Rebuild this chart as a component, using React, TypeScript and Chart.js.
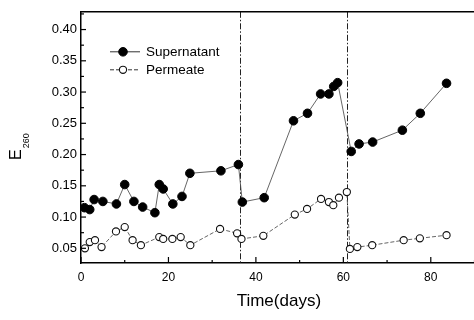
import React, { useEffect, useRef } from "react";
import { Chart, registerables } from "chart.js";

Chart.register(...registerables);

// ---- data ----
const supernatantDays = [0.8, 2.0, 3.0, 5.0, 8.1, 10.0, 12.1, 14.1, 16.9, 17.9, 18.8, 21.0, 23.1, 24.9, 32.0, 36.0, 36.9, 41.9, 48.6, 51.8, 54.8, 56.7, 57.8, 58.7, 61.8, 63.6, 66.7, 73.5, 77.6, 83.6];
const supernatantValues = [0.115, 0.112, 0.128, 0.125, 0.121, 0.152, 0.125, 0.116, 0.107, 0.152, 0.145, 0.121, 0.133, 0.170, 0.174, 0.184, 0.124, 0.131, 0.254, 0.266, 0.297, 0.297, 0.309, 0.315, 0.205, 0.217, 0.220, 0.239, 0.266, 0.314];
const permeateDays = [0.9, 2.0, 3.2, 4.7, 8.0, 10.0, 11.8, 13.7, 17.9, 18.8, 20.9, 22.8, 25.0, 31.8, 35.7, 36.7, 41.7, 48.9, 51.7, 54.9, 56.7, 57.7, 59.0, 60.8, 61.5, 63.2, 66.6, 73.8, 77.5, 83.6];
const permeateValues = [0.050, 0.060, 0.063, 0.052, 0.077, 0.084, 0.063, 0.055, 0.068, 0.065, 0.065, 0.068, 0.055, 0.081, 0.074, 0.065, 0.070, 0.104, 0.113, 0.129, 0.124, 0.119, 0.131, 0.140, 0.049, 0.052, 0.055, 0.063, 0.066, 0.071];
const seriesLabels = ["Supernatant", "Permeate"];
const xTickValues = [0, 20, 40, 60, 80];
const xMinorTickValues = [10, 30, 50, 70, 90];
const yTickValues = [0.05, 0.10, 0.15, 0.20, 0.25, 0.30, 0.35, 0.40];
const yMinorTickValues = [0.075, 0.125, 0.175, 0.225, 0.275, 0.325, 0.375, 0.425];
const markerDays = [36.4, 60.9];
const xTitle = "Time(days)";
const yTitleMain = "E";
const yTitleSub = "260";

const FONT = "'Liberation Sans', Arial, sans-serif";

const decorPlugin = {
  id: "decor",
  beforeDatasetsDraw(chart: any) {
    const { ctx, chartArea, scales } = chart;
    const x = scales.x;
    ctx.save();
    ctx.strokeStyle = "#222";
    ctx.lineWidth = 1;
    ctx.setLineDash([6, 2, 1.5, 2]);
    markerDays.forEach((d) => {
      const px = Math.round(x.getPixelForValue(d)) + 0.5;
      ctx.beginPath();
      ctx.moveTo(px, chartArea.top);
      ctx.lineTo(px, chartArea.bottom);
      ctx.stroke();
    });
    ctx.restore();
  },
  afterDraw(chart: any) {
    const { ctx, chartArea, scales } = chart;
    const x = scales.x;
    const y = scales.y;
    ctx.save();
    // top frame
    ctx.strokeStyle = "#000";
    ctx.lineWidth = 1.5;
    ctx.beginPath();
    ctx.moveTo(chartArea.left, chartArea.top);
    ctx.lineTo(chartArea.right, chartArea.top);
    ctx.stroke();
    // ticks (inward)
    ctx.lineWidth = 1.2;
    const drawX = (vals: number[], len: number) => {
      vals.forEach((v) => {
        const px = x.getPixelForValue(v);
        ctx.beginPath();
        ctx.moveTo(px, chartArea.bottom);
        ctx.lineTo(px, chartArea.bottom - len);
        ctx.stroke();
      });
    };
    const drawY = (vals: number[], len: number) => {
      vals.forEach((v) => {
        const py = y.getPixelForValue(v);
        ctx.beginPath();
        ctx.moveTo(chartArea.left, py);
        ctx.lineTo(chartArea.left + len, py);
        ctx.stroke();
      });
    };
    drawX(xTickValues, 6);
    drawX(xMinorTickValues, 3);
    drawY(yTickValues, 5);
    drawY(yMinorTickValues, 3);

    // legend
    const datasets = chart.data.datasets;
    const lx0 = chartArea.left + 29;
    const lx1 = chartArea.left + 59;
    const mx = chartArea.left + 42;
    const tx = chartArea.left + 65;
    const rows = [chartArea.top + 40, chartArea.top + 58];
    datasets.forEach((ds: any, i: number) => {
      const ry = rows[i];
      ctx.strokeStyle = "#333";
      ctx.lineWidth = 1;
      ctx.setLineDash(ds.borderDash || []);
      ctx.beginPath();
      ctx.moveTo(lx0, ry);
      ctx.lineTo(lx1, ry);
      ctx.stroke();
      ctx.setLineDash([]);
      ctx.beginPath();
      ctx.arc(mx, ry, ds.pointRadius, 0, Math.PI * 2);
      ctx.fillStyle = ds.pointBackgroundColor;
      ctx.fill();
      ctx.lineWidth = ds.pointBorderWidth;
      ctx.strokeStyle = ds.pointBorderColor;
      ctx.stroke();
      ctx.fillStyle = "#000";
      ctx.font = `13.5px ${FONT}`;
      ctx.textAlign = "left";
      ctx.textBaseline = "middle";
      ctx.fillText(ds.label, tx, ry);
    });

    // y title with subscript
    ctx.translate(21, 160);
    ctx.rotate(-Math.PI / 2);
    ctx.fillStyle = "#000";
    ctx.textAlign = "left";
    ctx.textBaseline = "alphabetic";
    ctx.font = `16px ${FONT}`;
    ctx.fillText(yTitleMain, 0, 0);
    const w = ctx.measureText(yTitleMain).width;
    ctx.font = `9px ${FONT}`;
    ctx.fillText(yTitleSub, w + 1, 8);
    ctx.restore();
  },
};

export default function App() {
  const ref = useRef<HTMLCanvasElement | null>(null);

  useEffect(() => {
    if (!ref.current) return;
    const supPoints = supernatantDays.map((d, i) => ({ x: d, y: supernatantValues[i] }));
    const perPoints = permeateDays.map((d, i) => ({ x: d, y: permeateValues[i] }));
    const chart = new Chart(ref.current, {
      type: "line",
      data: {
        datasets: [
          {
            label: seriesLabels[0],
            data: supPoints,
            borderColor: "#555",
            borderWidth: 0.9,
            pointRadius: 4.3,
            pointBackgroundColor: "#000",
            pointBorderColor: "#000",
            pointBorderWidth: 1,
            fill: false,
            tension: 0,
          },
          {
            label: seriesLabels[1],
            data: perPoints,
            borderColor: "#555",
            borderWidth: 0.9,
            borderDash: [4, 2],
            pointRadius: 3.6,
            pointBackgroundColor: "#fff",
            pointBorderColor: "#111",
            pointBorderWidth: 1.1,
            fill: false,
            tension: 0,
          },
        ],
      },
      options: {
        responsive: false,
        animation: false,
        devicePixelRatio: 1,
        layout: { padding: { top: 7, right: 1, left: 0, bottom: 0 } },
        plugins: {
          legend: { display: false },
          tooltip: { enabled: false },
        },
        scales: {
          x: {
            type: "linear",
            min: 0,
            max: 90.5,
            grid: { display: false, drawTicks: false },
            border: { display: true, color: "#000", width: 1.5 },
            afterBuildTicks: (scale: any) => {
              scale.ticks = xTickValues.map((v) => ({ value: v }));
            },
            afterFit: (scale: any) => {
              scale.height = 57;
            },
            ticks: {
              padding: 7,
              color: "#000",
              font: { family: FONT, size: 12 },
              callback: (v: any) => String(v),
            },
            title: {
              display: true,
              text: xTitle,
              color: "#000",
              font: { family: FONT, size: 17 },
              padding: { top: 0, bottom: 8 },
            },
          },
          y: {
            type: "linear",
            min: 0.0265,
            max: 0.4284,
            grid: { display: false, drawTicks: false },
            border: { display: true, color: "#000", width: 1.5 },
            afterBuildTicks: (scale: any) => {
              scale.ticks = yTickValues.map((v) => ({ value: v }));
            },
            afterFit: (scale: any) => {
              scale.width = 81;
            },
            ticks: {
              padding: 4,
              color: "#000",
              font: { family: FONT, size: 13 },
              callback: (v: any) => Number(v).toFixed(2),
            },
          },
        },
      },
      plugins: [decorPlugin],
    });
    return () => chart.destroy();
  }, []);

  return (
    <div
      style={{
        position: "fixed",
        left: 0,
        top: 0,
        width: 474,
        height: 320,
        overflow: "hidden",
        background: "#fff",
      }}
    >
      <canvas ref={ref} width={482} height={320} style={{ width: 482, height: 320, display: "block" }} />
    </div>
  );
}
